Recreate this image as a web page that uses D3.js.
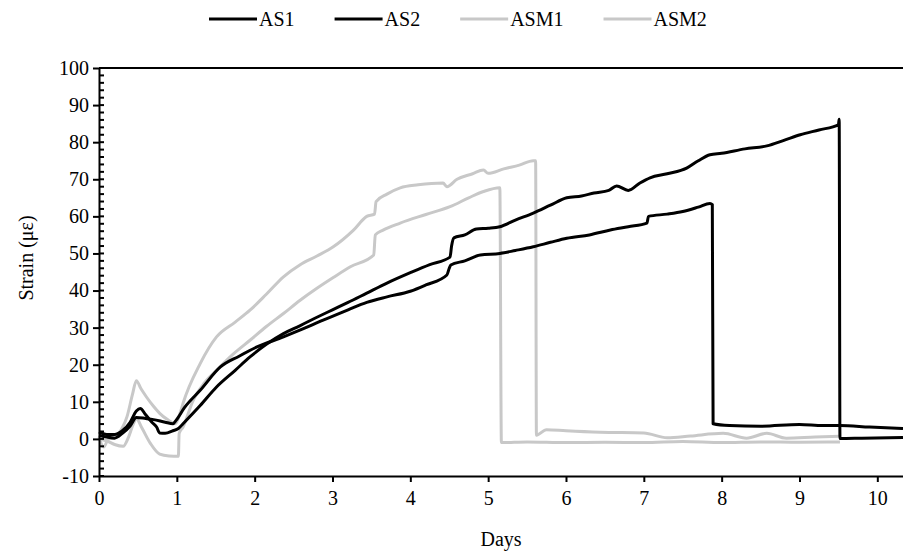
<!DOCTYPE html>
<html>
<head>
<meta charset="utf-8">
<title>Strain vs days</title>
<style>
  body { margin: 0; background: #fff; }
  text { font-family: "Liberation Serif", "Times New Roman", serif; fill: #000; }
</style>
</head>
<body>
<svg id="viz" width="903" height="554"></svg>
<script src="https://d3js.org/d3.v7.min.js"></script>
<script>
// series names and colours
var seriesNames = ["AS1", "AS2", "ASM1", "ASM2"];
var seriesColors = ["#000000", "#000000", "#c8c8c8", "#c8c8c8"];

// [day, strain]
var as1 = [[0,1.9],[0.1,1.2],[0.2,1.2],[0.3,2.2],[0.4,4.5],[0.48,7.5],[0.53,8.2],[0.6,6.5],[0.68,4.5],[0.74,3.2],[0.78,1.6],[0.85,1.5],[0.95,2.2],[1.02,2.8],[1.08,4.1],[1.3,9],[1.51,14],[1.75,18.5],[1.94,22.1],[2.15,25.5],[2.37,28.4],[2.58,30.5],[2.8,32.8],[3.0,34.8],[3.2,36.8],[3.44,39.3],[3.7,42],[4.0,44.8],[4.25,47],[4.51,49],[4.53,52],[4.56,54.2],[4.7,55],[4.85,56.6],[5.0,56.8],[5.15,57.2],[5.35,59],[5.58,60.9],[5.8,63],[6.01,65],[6.2,65.5],[6.36,66.3],[6.55,67],[6.65,68.2],[6.8,67],[6.95,69],[7.08,70.4],[7.3,71.5],[7.55,73],[7.7,75],[7.85,76.6],[8.0,77],[8.3,78.2],[8.58,79],[8.8,80.5],[9.01,82],[9.25,83.3],[9.5,84.7],[9.51,86.2],[9.52,0.1],[9.8,0.2],[10.33,0.4]];
var as2 = [[0,1],[0.1,0.5],[0.2,0.2],[0.3,1.5],[0.4,3.5],[0.48,5.8],[0.6,5.5],[0.7,5.2],[0.85,4.5],[0.95,4.1],[0.99,5],[1.1,8.5],[1.3,13.1],[1.56,19.4],[1.8,22.3],[2.03,24.8],[2.37,27.5],[2.58,29.3],[2.88,32],[3.2,34.8],[3.44,36.8],[3.7,38.3],[4.0,39.8],[4.2,41.5],[4.47,44.2],[4.5,46],[4.52,46.9],[4.7,48],[4.9,49.6],[5.15,50],[5.35,50.8],[5.58,51.8],[5.8,53],[6.01,54.1],[6.3,55],[6.57,56.3],[6.8,57.2],[7.04,58.2],[7.06,60],[7.3,60.6],[7.5,61.3],[7.7,62.5],[7.85,63.5],[7.88,63.2],[7.89,4.1],[8.1,3.6],[8.5,3.4],[9.0,3.9],[9.3,3.6],[9.52,3.6],[9.9,3.2],[10.33,2.8]];
var asm1 = [[0,0.5],[0.06,-2.2],[0.12,0],[0.2,0.5],[0.3,3],[0.36,6],[0.43,12],[0.48,15.7],[0.54,13.5],[0.61,11.3],[0.7,8.8],[0.78,6.9],[0.88,5.2],[0.98,4.1],[1.05,7.5],[1.08,9.6],[1.3,20.3],[1.51,27.5],[1.75,31.5],[1.94,34.7],[2.15,39],[2.37,43.7],[2.58,46.9],[2.8,49.3],[3.01,51.8],[3.27,56.3],[3.44,60],[3.54,60.6],[3.56,64],[3.7,66],[3.87,67.7],[4.1,68.5],[4.42,69],[4.47,68],[4.6,70],[4.8,71.5],[4.94,72.5],[5.0,71.6],[5.2,72.8],[5.4,73.8],[5.58,75],[5.61,75],[5.62,1],[5.75,2.5],[6.0,2.2],[6.44,1.8],[7.0,1.6],[7.3,0.3],[7.6,0.8],[8.02,1.5],[8.32,0.2],[8.58,1.5],[8.83,0.2],[9.2,0.5],[9.52,0.7]];
var asm2 = [[0,0],[0.1,-0.5],[0.2,-1.5],[0.31,-2],[0.38,0.5],[0.44,4],[0.48,5.5],[0.55,3],[0.66,-1.2],[0.78,-4.1],[0.9,-4.6],[1.02,-4.7],[1.03,1.5],[1.08,3.2],[1.21,10.4],[1.35,15],[1.51,18.5],[1.72,22.8],[1.94,26.6],[2.15,30.3],[2.37,33.8],[2.58,37.3],[2.8,40.6],[3.01,43.5],[3.23,46.4],[3.53,49.6],[3.55,55],[3.65,56.3],[3.87,58.2],[4.2,60.5],[4.51,62.6],[4.75,65],[4.94,66.7],[5.15,67.7],[5.17,-1],[5.5,-0.8],[6.0,-1],[6.5,-0.9],[7.0,-1],[7.5,-0.7],[8.0,-1],[8.5,-0.8],[9.0,-0.9],[9.52,-0.8]];

var xTicks = [0,1,2,3,4,5,6,7,8,9,10];
var yTicks = [-10,0,10,20,30,40,50,60,70,80,90,100];

var svg = d3.select("#viz");
var mLeft = 99, mRight = 903, mTop = 68, mBottom = 476;
var serif = "'Liberation Serif', 'Times New Roman', serif";

var x = d3.scaleLinear().domain([0, 10.33]).range([mLeft, mRight]);
var y = d3.scaleLinear().domain([-10, 100]).range([mBottom, mTop]);

// monotone keeps the bends soft without overshooting the drops
var line = d3.line()
  .curve(d3.curveMonotoneX)
  .x(function(d){ return x(d[0]); })
  .y(function(d){ return y(d[1]); });

// greys first so the black lines sit on top
var allSeries = [as1, as2, asm1, asm2];
[2, 3, 0, 1].forEach(function(i){
  svg.append("path")
    .datum(allSeries[i])
    .attr("fill", "none")
    .attr("stroke", seriesColors[i])
    .attr("stroke-width", 3)
    .attr("stroke-linejoin", "round")
    .attr("d", line);
});

// top border at 100
svg.append("line")
  .attr("x1", mLeft).attr("x2", mRight)
  .attr("y1", y(100)).attr("y2", y(100))
  .attr("stroke", "#000").attr("stroke-width", 2);

// plain hyphen for negatives, like the original
var plain = function(d){ return String(d); };

// x axis along -10
var xAxis = d3.axisBottom(x).tickValues(xTicks).tickFormat(plain).tickSize(6).tickSizeOuter(0);
var gx = svg.append("g").attr("transform", "translate(0," + mBottom + ")").call(xAxis);
gx.attr("font-family", serif);
gx.select(".domain").attr("stroke-width", 2);
gx.selectAll(".tick line").attr("stroke-width", 2);
gx.selectAll(".tick text").attr("font-size", 20).attr("dy", "1.0em");

// y axis with minor ticks inside
var minor = d3.range(-10, 101, 2);
svg.append("g").selectAll("line").data(minor).enter().append("line")
  .attr("x1", mLeft).attr("x2", mLeft + 5)
  .attr("y1", function(d){ return y(d); }).attr("y2", function(d){ return y(d); })
  .attr("stroke", "#000").attr("stroke-width", 2);

var yAxis = d3.axisLeft(y).tickValues(yTicks).tickFormat(plain).tickSize(6).tickSizeOuter(0);
var gy = svg.append("g").attr("transform", "translate(" + mLeft + ",0)").call(yAxis);
gy.attr("font-family", serif);
gy.select(".domain").attr("stroke-width", 2);
gy.selectAll(".tick line").attr("stroke-width", 2);
gy.selectAll(".tick text").attr("font-size", 20).attr("x", -10);

// axis titles
svg.append("text")
  .attr("x", (mLeft + mRight) / 2).attr("y", 546)
  .attr("text-anchor", "middle").attr("font-size", 20)
  .attr("font-family", serif)
  .text("Days");

svg.append("text")
  .attr("transform", "translate(33," + ((mTop + mBottom) / 2 - 14) + ") rotate(-90)")
  .attr("text-anchor", "middle").attr("font-size", 20)
  .attr("font-family", serif)
  .text("Strain (με)");

// legend
var lx = 209;
seriesNames.forEach(function(name, i){
  svg.append("line")
    .attr("x1", lx).attr("x2", lx + 48)
    .attr("y1", 19).attr("y2", 19)
    .attr("stroke", seriesColors[i]).attr("stroke-width", 3);
  var t = svg.append("text")
    .attr("x", lx + 50).attr("y", 26)
    .attr("font-size", 20)
    .attr("font-family", serif)
    .text(name);
  lx = lx + 50 + t.node().getComputedTextLength() + 40;
});
</script>
</body>
</html>
